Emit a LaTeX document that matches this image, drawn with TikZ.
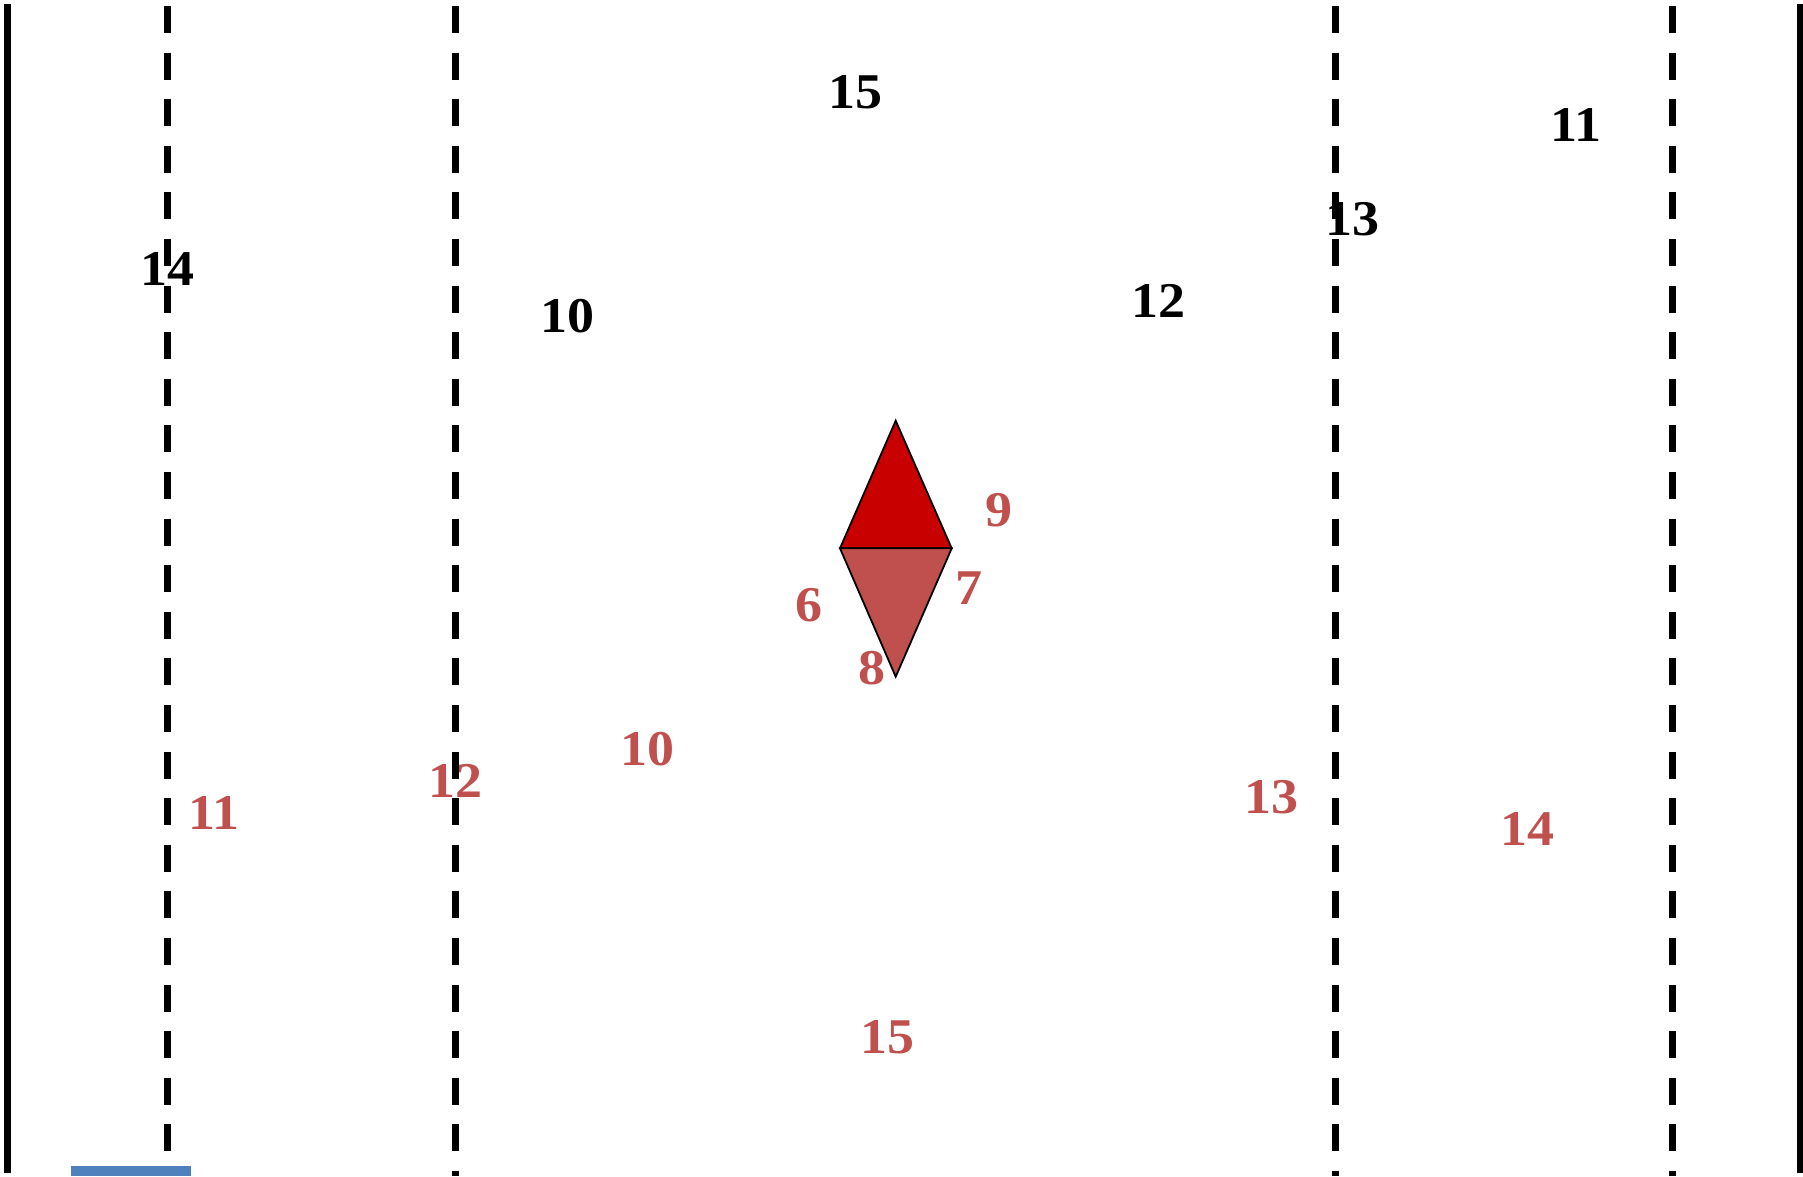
\documentclass[tikz,border=0pt]{standalone}
\usepackage{fontspec}
\setmainfont[FakeStretch=1.08]{Liberation Serif}
\definecolor{lblred}{HTML}{C0504D}
\definecolor{topred}{HTML}{C80000}
\definecolor{barblue}{HTML}{4F81BD}
\begin{document}
\begin{tikzpicture}[x=1pt,y=-1pt,
  lbl/.style={inner sep=0pt,font=\fontsize{50}{60}\selectfont\bfseries},
  blk/.style={lbl,text=black},
  rd/.style={lbl,text=lblred},
  wall/.style={line width=6.5pt},
  lane/.style={line width=7pt,dash pattern=on 27pt off 19.6pt},
  tri/.style={draw=black,line width=1.8pt,line join=miter}]
\useasboundingbox (0,0) rectangle (1803,1176);
% diamond
\coordinate (dtop) at (895.7,420.7);
\coordinate (dl) at (840,548.3);
\coordinate (dr) at (951.7,548.3);
\coordinate (dbot) at (895.7,676.7);
\filldraw[tri,fill=topred] (dtop) -- (dr) -- (dl) -- cycle;
\filldraw[tri,fill=lblred] (dl) -- (dr) -- (dbot) -- cycle;
% black labels
\node[blk] (b15) at (855,92.5) {15};
\node[blk] (b11) at (1576,125) {11};
\node[blk] (b13) at (1352,219.5) {13};
\node[blk] (b14) at (167.5,268.5) {14};
\node[blk] (b10) at (567.5,316.5) {10};
\node[blk] (b12) at (1158,300.5) {12};
% red labels
\node[rd] (r9) at (999,510) {9};
\node[rd] (r7) at (968.5,588.5) {7};
\node[rd] (r6) at (809,605) {6};
\node[rd] (r8) at (872,668.5) {8};
\node[rd] (r10) at (647.5,749) {10};
\node[rd] (r12) at (455,780.5) {12};
\node[rd] (r11) at (214,812.5) {11};
\node[rd] (r13) at (1271,797) {13};
\node[rd] (r14) at (1527,829) {14};
\node[rd] (r15) at (887,1037) {15};
% walls
\coordinate (wl1) at (7.5,4);
\coordinate (wl2) at (7.5,1173);
\coordinate (wr1) at (1800,4);
\coordinate (wr2) at (1800,1173);
\draw[wall] (wl1) -- (wl2);
\draw[wall] (wr1) -- (wr2);
% dashed lanes
\foreach \x/\n in {167.5/a,455/b,1335.5/c,1672.5/d}{
  \coordinate (lane\n top) at (\x,6);
  \coordinate (lane\n bot) at (\x,1176);
  \draw[lane] (lane\n top) -- (lane\n bot);
}
% blue bar
\fill[barblue] (71,1166) rectangle (191,1176);
\end{tikzpicture}
\end{document}
